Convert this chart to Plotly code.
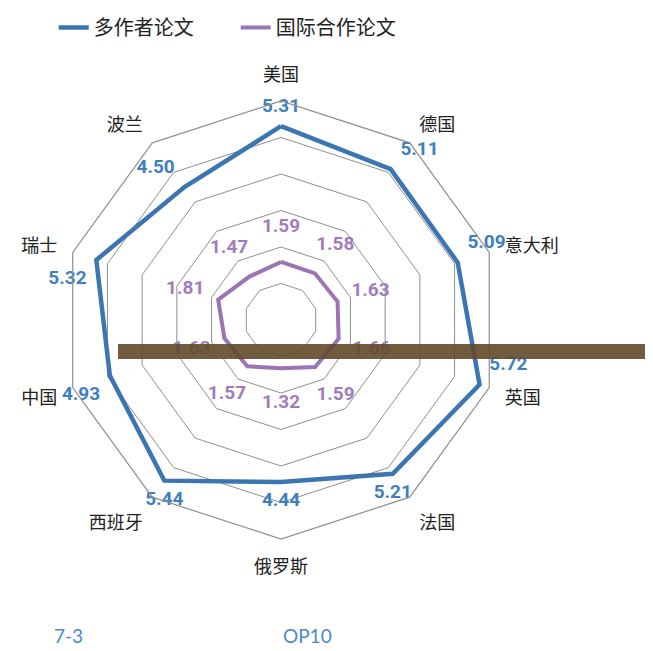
import plotly.graph_objects as go

# ---------------- data ----------------
categories = ["美国", "德国", "意大利", "英国", "法国", "俄罗斯", "西班牙", "中国", "瑞士", "波兰"]
multi_author = [5.31, 5.11, 5.09, 5.72, 5.21, 4.44, 5.44, 4.93, 5.32, 4.50]
intl_collab = [1.59, 1.58, 1.63, 1.66, 1.59, 1.32, 1.57, 1.63, 1.81, 1.47]
series_names = ["多作者论文", "国际合作论文"]
radial_ticks = [1, 2, 3, 4, 5, 6]
footer_labels = ["7-3", "OP10"]

# ---------------- style ----------------
BLUE = "#3b76b3"
PURPLE = "#9d74b3"
LABEL_BLUE = "#3d7fc0"
LABEL_PURPLE = "#a07dba"
GRID = "#8f8f8f"
CJK = "Noto Sans CJK SC"
blue_label_pos = ["top center", "top right", "top right", "top right", "bottom center",
                  "bottom center", "bottom center", "bottom left", "bottom left", "top left"]
PURPLE_LABEL_OFFSET = 0.95

def closed(seq):
    return list(seq) + [seq[0]]

fig = go.Figure()

fig.add_trace(go.Scatterpolar(
    r=closed(multi_author), theta=closed(categories), mode="lines",
    name=series_names[0], line=dict(color=BLUE, width=4.5), hoverinfo="skip"))
fig.add_trace(go.Scatterpolar(
    r=closed(intl_collab), theta=closed(categories), mode="lines",
    name=series_names[1], line=dict(color=PURPLE, width=4), hoverinfo="skip"))

# value labels
fig.add_trace(go.Scatterpolar(
    r=multi_author, theta=categories, mode="markers+text",
    marker=dict(size=14, opacity=0),
    text=[f"{v:.2f}" for v in multi_author], textposition=blue_label_pos,
    textfont=dict(color=LABEL_BLUE, size=19, family="Roboto", weight="bold"),
    showlegend=False, hoverinfo="skip"))
fig.add_trace(go.Scatterpolar(
    r=[v + PURPLE_LABEL_OFFSET for v in intl_collab], theta=categories, mode="text",
    text=[f"{v:.2f}" for v in intl_collab], textposition="middle center",
    textfont=dict(color=LABEL_PURPLE, size=19, family="Roboto", weight="bold"),
    showlegend=False, hoverinfo="skip"))

W, H = 653, 651
M = 8  # page body margin
cx, cy, R = 281 - M, 320 - M, 219

fig.update_layout(
    width=W, height=H,
    margin=dict(l=0, r=0, t=0, b=0),
    paper_bgcolor="white",
    font=dict(family=CJK, color="#222"),
    polar=dict(
        domain=dict(x=[(cx - R) / W, (cx + R) / W],
                    y=[(H - cy - R) / H, (H - cy + R) / H]),
        bgcolor="white",
        gridshape="linear",
        radialaxis=dict(range=[0, 6], tickvals=radial_ticks, showticklabels=False,
                        ticks="", showline=False, gridcolor=GRID, gridwidth=1.2),
        angularaxis=dict(direction="clockwise", rotation=90, showgrid=False,
                         linecolor=GRID, linewidth=1.2, ticks="outside", ticklen=12,
                         tickcolor="rgba(0,0,0,0)",
                         tickfont=dict(size=18, color="#222", family=CJK)),
    ),
    legend=dict(orientation="h", x=0.07, y=1.0, xanchor="left", yanchor="top",
                font=dict(size=20, family=CJK, color="#222"),
                entrywidth=137, entrywidthmode="pixels", bgcolor="rgba(0,0,0,0)"),
    annotations=[
        dict(text=footer_labels[0], x=(68 - M) / W, y=(H - 635 + M) / H,
             xref="paper", yref="paper", xanchor="center", yanchor="middle",
             showarrow=False, font=dict(size=19, color="#4a8ad0", family="Lato")),
        dict(text=footer_labels[1], x=(307 - M) / W, y=(H - 635 + M) / H,
             xref="paper", yref="paper", xanchor="center", yanchor="middle",
             showarrow=False, font=dict(size=19, color="#4a8ad0", family="Lato")),
    ],
    shapes=[
        dict(type="rect", xref="paper", yref="paper", x0=(118 - M) / W, x1=1,
             y0=(H - 359 + M) / H, y1=(H - 344 + M) / H,
             fillcolor="rgba(99,74,43,0.9)", line=dict(width=0), layer="above"),
    ],
)

fig.write_html("out.html")
